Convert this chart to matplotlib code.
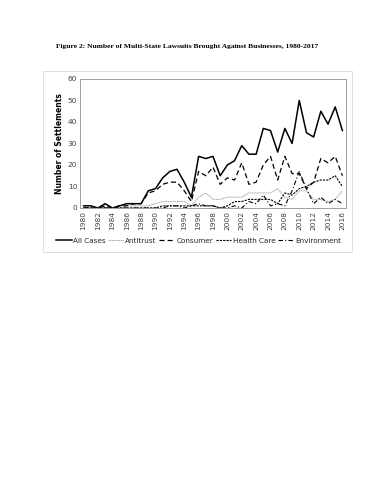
import matplotlib.pyplot as plt
from matplotlib.patches import Rectangle

years = list(range(1980, 2017))
all_cases = [1, 1, 0, 2, 0, 1, 2, 2, 2, 8, 9, 14, 17, 18, 12, 5, 24, 23, 24, 15,
             20, 22, 29, 25, 25, 37, 36, 26, 37, 30, 50, 35, 33, 45, 39, 47, 36]
antitrust = [0, 0, 0, 0, 0, 0, 1, 1, 1, 1, 2, 3, 3, 3, 3, 1, 5, 7, 4, 4,
             5, 5, 5, 7, 7, 7, 7, 9, 5, 4, 8, 8, 4, 4, 3, 4, 8]
consumer = [0, 0, 0, 1, 0, 1, 1, 2, 2, 7, 8, 11, 12, 12, 8, 3, 17, 15, 19, 11,
            14, 13, 21, 11, 12, 20, 24, 13, 24, 16, 16, 9, 12, 23, 21, 24, 15]
health_care = [0, 0, 0, 0, 0, 0, 0, 0, 0, 0, 0, 1, 1, 1, 1, 1, 1, 1, 1, 0,
               1, 3, 3, 4, 4, 4, 4, 2, 7, 6, 9, 10, 12, 13, 13, 15, 10]
environment = [0, 0, 0, 0, 0, 0, 0, 0, 0, 0, 0, 0, 1, 1, 0, 1, 2, 1, 1, 0,
               0, 1, 0, 3, 2, 6, 1, 2, 1, 8, 17, 9, 2, 5, 2, 4, 2]
x_labels = [str(y) for y in range(1980, 2017, 2)]

fig = plt.figure(figsize=(3.71, 4.8), dpi=100)

fig.text(0.503, 0.904, 'Figure 2: Number of Multi-State Lawsuits Brought Against Businesses, 1980-2017',
         ha='center', va='center', fontsize=5.4, fontweight='bold', family='Liberation Serif')

# light grey chart border like the Excel chart area
fig.patches.append(Rectangle((0.116, 0.475), 0.833, 0.377, transform=fig.transFigure,
                             fill=False, edgecolor='#d9d9d9', linewidth=0.6))

ax = fig.add_axes([0.2156, 0.5667, 0.717, 0.2688])

ax.plot(years, all_cases, color='black', linewidth=1.1, label='All Cases')
ax.plot(years, antitrust, color='#a6a6a6', linewidth=0.8, linestyle=(0, (1, 0.6)), label='Antitrust')
ax.plot(years, consumer, color='black', linewidth=0.9, linestyle=(0, (4, 2.5)), label='Consumer')
ax.plot(years, health_care, color='black', linewidth=0.8, linestyle=(0, (2, 1)), label='Health Care')
ax.plot(years, environment, color='black', linewidth=0.8, linestyle=(0, (4, 2, 1, 2)), label='Environment')

ax.set_xlim(1979.5, 2016.5)
ax.set_ylim(0, 60)
ax.set_yticks(range(0, 61, 10))
ax.set_xticks(range(1980, 2017, 2))
ax.set_xticklabels(x_labels, rotation=90)
ax.tick_params(axis='both', labelsize=5.3, colors='#404040', length=0, pad=2)
ax.set_ylabel('Number of Settlements', fontsize=5.5, fontweight='bold', labelpad=3)

for side in ['top', 'right', 'left', 'bottom']:
    ax.spines[side].set_color('#a0a0a0')
    ax.spines[side].set_linewidth(0.7)

leg = fig.legend(loc='center', bbox_to_anchor=(0.535, 0.4985), ncol=5, frameon=False,
                 fontsize=5.2, handlelength=2.2, handletextpad=0.15, columnspacing=0.35)
for t in leg.get_texts():
    t.set_color('#262626')

plt.savefig('out.png', dpi=100)
plt.close()
